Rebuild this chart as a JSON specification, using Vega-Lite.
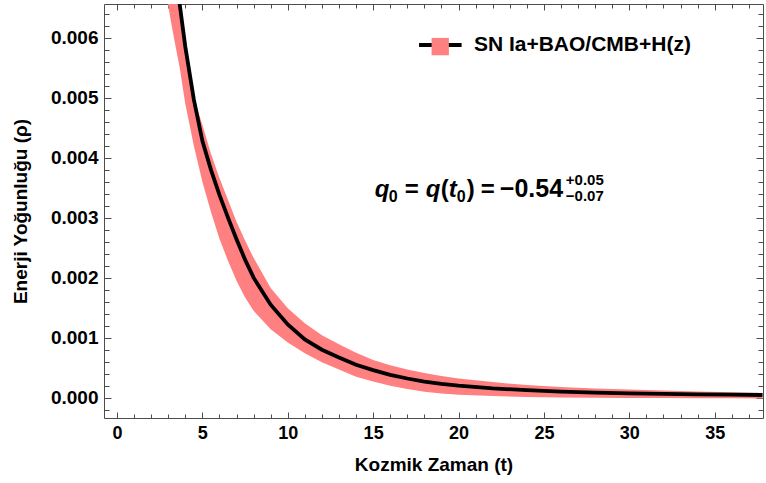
{
  "$schema": "https://vega.github.io/schema/vega-lite/v6.json",
  "width": 659,
  "height": 414,
  "autosize": {"type": "none"},
  "padding": {"left": 104, "top": 4, "right": 3, "bottom": 65},
  "background": "white",
  "config": {
    "view": {"stroke": "#4d4d4d", "strokeWidth": 1},
    "font": "Liberation Sans",
    "axis": {
      "domain": false,
      "grid": false,
      "tickColor": "#4d4d4d",
      "tickWidth": 1,
      "labelFont": "Liberation Sans",
      "labelFontWeight": "bold",
      "labelColor": "black",
      "titleFont": "Liberation Sans",
      "titleFontWeight": "bold",
      "titleColor": "black",
      "titleFontSize": 19
    }
  },
  "data": {
    "values": [
      {"t": 2.9, "rho": 0.0093, "lo": 0.0067, "hi": 0.0091},
      {"t": 3.2, "rho": 0.008, "lo": 0.0062, "hi": 0.0079},
      {"t": 3.4, "rho": 0.0073, "lo": 0.0059, "hi": 0.0073},
      {"t": 3.67, "rho": 0.00656, "lo": 0.0055, "hi": 0.00656},
      {"t": 4, "rho": 0.00585, "lo": 0.0049, "hi": 0.006},
      {"t": 4.5, "rho": 0.00497, "lo": 0.0042, "hi": 0.005},
      {"t": 5, "rho": 0.00428, "lo": 0.0036, "hi": 0.00455},
      {"t": 5.5, "rho": 0.0038, "lo": 0.0031, "hi": 0.00407},
      {"t": 6, "rho": 0.00338, "lo": 0.00265, "hi": 0.00366},
      {"t": 6.5, "rho": 0.003, "lo": 0.00228, "hi": 0.0033},
      {"t": 7, "rho": 0.00264, "lo": 0.00195, "hi": 0.00293},
      {"t": 7.5, "rho": 0.0023, "lo": 0.00167, "hi": 0.00262},
      {"t": 8, "rho": 0.002, "lo": 0.00145, "hi": 0.00233},
      {"t": 9, "rho": 0.00155, "lo": 0.00114, "hi": 0.00183},
      {"t": 10, "rho": 0.00122, "lo": 0.00092, "hi": 0.00149},
      {"t": 11, "rho": 0.00097, "lo": 0.00074, "hi": 0.00124},
      {"t": 12, "rho": 0.0008, "lo": 0.00059, "hi": 0.00104},
      {"t": 13, "rho": 0.00067, "lo": 0.00047, "hi": 0.00089},
      {"t": 14, "rho": 0.00055, "lo": 0.00035, "hi": 0.00075},
      {"t": 15, "rho": 0.00046, "lo": 0.00027, "hi": 0.00063},
      {"t": 16, "rho": 0.00038, "lo": 0.0002, "hi": 0.00054},
      {"t": 17, "rho": 0.00032, "lo": 0.000145, "hi": 0.00047},
      {"t": 18, "rho": 0.00027, "lo": 0.0001, "hi": 0.00041},
      {"t": 19, "rho": 0.00023, "lo": 0.00007, "hi": 0.00036},
      {"t": 20, "rho": 0.0002, "lo": 0.00005, "hi": 0.00032},
      {"t": 22, "rho": 0.000155, "lo": 0.000027, "hi": 0.00026},
      {"t": 24, "rho": 0.000125, "lo": 0.000012, "hi": 0.00021},
      {"t": 26, "rho": 0.000102, "lo": 0.000004, "hi": 0.00018},
      {"t": 28, "rho": 0.000085, "lo": 0, "hi": 0.000155},
      {"t": 30, "rho": 0.000072, "lo": -0.000004, "hi": 0.000135},
      {"t": 32, "rho": 0.000063, "lo": -0.000006, "hi": 0.00012},
      {"t": 34, "rho": 0.000056, "lo": -0.000008, "hi": 0.000105},
      {"t": 36, "rho": 0.00005, "lo": -0.00001, "hi": 0.00009},
      {"t": 37.8, "rho": 0.000045, "lo": -0.000012, "hi": 0.00008}
    ]
  },
  "layer": [
    {
      "mark": {"type": "area", "color": "#ff8080", "clip": true},
      "encoding": {
        "x": {
          "field": "t", "type": "quantitative",
          "scale": {"domain": [-0.76, 37.83], "nice": false, "zero": false},
          "axis": {
            "orient": "bottom",
            "title": "Kozmik Zaman (t)",
            "values": [0,1,2,3,4,5,6,7,8,9,10,11,12,13,14,15,16,17,18,19,20,21,22,23,24,25,26,27,28,29,30,31,32,33,34,35,36,37],
            "labelExpr": "datum.value % 5 === 0 ? datum.label : ''",
            "tickSize": {"condition": {"test": "datum.value % 5 === 0", "value": -6}, "value": -4},
            "labelPadding": 12,
            "labelFontSize": 18,
            "titlePadding": 13
          }
        },
        "y": {
          "field": "lo", "type": "quantitative",
          "scale": {"domain": [-0.000338, 0.00656], "nice": false, "zero": false},
          "axis": {
            "orient": "left",
            "title": "Enerji Yoğunluğu (ρ)",
            "format": ".3f",
            "values": [-0.0002,0,0.0002,0.0004,0.0006,0.0008,0.001,0.0012,0.0014,0.0016,0.0018,0.002,0.0022,0.0024,0.0026,0.0028,0.003,0.0032,0.0034,0.0036,0.0038,0.004,0.0042,0.0044,0.0046,0.0048,0.005,0.0052,0.0054,0.0056,0.0058,0.006,0.0062,0.0064],
            "labelExpr": "abs(round(datum.value*10000)) % 10 === 0 ? datum.label : ''",
            "tickSize": {"condition": {"test": "abs(round(datum.value*10000)) % 10 === 0", "value": -7}, "value": -5},
            "labelPadding": 13,
            "labelFontSize": 19,
            "titlePadding": 20
          }
        },
        "y2": {"field": "hi"}
      }
    },
    {
      "mark": {"type": "line", "color": "black", "strokeWidth": 3.8, "clip": true},
      "encoding": {
        "x": {
          "field": "t", "type": "quantitative",
          "axis": {
            "orient": "top", "title": null, "labels": false,
            "values": [0,1,2,3,4,5,6,7,8,9,10,11,12,13,14,15,16,17,18,19,20,21,22,23,24,25,26,27,28,29,30,31,32,33,34,35,36,37],
            "tickSize": {"condition": {"test": "datum.value % 5 === 0", "value": -6}, "value": -4}
          }
        },
        "y": {
          "field": "rho", "type": "quantitative",
          "axis": {
            "orient": "right", "title": null, "labels": false,
            "values": [-0.0002,0,0.0002,0.0004,0.0006,0.0008,0.001,0.0012,0.0014,0.0016,0.0018,0.002,0.0022,0.0024,0.0026,0.0028,0.003,0.0032,0.0034,0.0036,0.0038,0.004,0.0042,0.0044,0.0046,0.0048,0.005,0.0052,0.0054,0.0056,0.0058,0.006,0.0062,0.0064],
            "tickSize": {"condition": {"test": "abs(round(datum.value*10000)) % 10 === 0", "value": -7}, "value": -5}
          }
        }
      }
    },
    {
      "data": {"values": [{"series": "SN Ia+BAO/CMB+H(z)"}]},
      "mark": {"type": "rule", "color": "black", "strokeWidth": 4},
      "encoding": {
        "x": {"datum": 17.69, "type": "quantitative", "axis": null},
        "x2": {"datum": 20.18},
        "y": {"datum": 0.005878, "type": "quantitative", "axis": null}
      }
    },
    {
      "data": {"values": [{"series": "SN Ia+BAO/CMB+H(z)"}]},
      "mark": {"type": "point", "shape": "square", "filled": true, "color": "#ff8080", "opacity": 1, "size": 300},
      "encoding": {
        "x": {"datum": 18.93, "type": "quantitative", "axis": null},
        "y": {"datum": 0.00585, "type": "quantitative", "axis": null}
      }
    },
    {
      "data": {"values": [{"series": "SN Ia+BAO/CMB+H(z)"}]},
      "mark": {"type": "text", "align": "left", "baseline": "middle", "fontSize": 21, "fontWeight": "bold", "color": "black", "font": "Liberation Sans"},
      "encoding": {
        "x": {"datum": 20.9, "type": "quantitative", "axis": null},
        "y": {"datum": 0.005878, "type": "quantitative", "axis": null},
        "text": {"field": "series"}
      }
    },
    {
      "data": {"values": [{"s": "q"}]},
      "mark": {"type": "text", "align": "left", "baseline": "alphabetic", "fontSize": 24, "fontWeight": "bold", "fontStyle": "italic", "color": "black", "dx": 0},
      "encoding": {"x": {"datum": 15.1, "type": "quantitative", "axis": null}, "y": {"datum": 0.00335, "type": "quantitative", "axis": null}, "text": {"field": "s"}}
    },
    {
      "data": {"values": [{"s": "0"}]},
      "mark": {"type": "text", "align": "left", "baseline": "alphabetic", "fontSize": 16, "fontWeight": "bold", "color": "black", "dx": 14, "dy": 5},
      "encoding": {"x": {"datum": 15.1, "type": "quantitative", "axis": null}, "y": {"datum": 0.00335, "type": "quantitative", "axis": null}, "text": {"field": "s"}}
    },
    {
      "data": {"values": [{"s": "="}]},
      "mark": {"type": "text", "align": "left", "baseline": "alphabetic", "fontSize": 24, "fontWeight": "bold", "color": "black", "dx": 30},
      "encoding": {"x": {"datum": 15.1, "type": "quantitative", "axis": null}, "y": {"datum": 0.00335, "type": "quantitative", "axis": null}, "text": {"field": "s"}}
    },
    {
      "data": {"values": [{"s": "q"}]},
      "mark": {"type": "text", "align": "left", "baseline": "alphabetic", "fontSize": 24, "fontWeight": "bold", "fontStyle": "italic", "color": "black", "dx": 51},
      "encoding": {"x": {"datum": 15.1, "type": "quantitative", "axis": null}, "y": {"datum": 0.00335, "type": "quantitative", "axis": null}, "text": {"field": "s"}}
    },
    {
      "data": {"values": [{"s": "("}]},
      "mark": {"type": "text", "align": "left", "baseline": "alphabetic", "fontSize": 24, "fontWeight": "bold", "color": "black", "dx": 66},
      "encoding": {"x": {"datum": 15.1, "type": "quantitative", "axis": null}, "y": {"datum": 0.00335, "type": "quantitative", "axis": null}, "text": {"field": "s"}}
    },
    {
      "data": {"values": [{"s": "t"}]},
      "mark": {"type": "text", "align": "left", "baseline": "alphabetic", "fontSize": 24, "fontWeight": "bold", "fontStyle": "italic", "color": "black", "dx": 74},
      "encoding": {"x": {"datum": 15.1, "type": "quantitative", "axis": null}, "y": {"datum": 0.00335, "type": "quantitative", "axis": null}, "text": {"field": "s"}}
    },
    {
      "data": {"values": [{"s": "0"}]},
      "mark": {"type": "text", "align": "left", "baseline": "alphabetic", "fontSize": 16, "fontWeight": "bold", "color": "black", "dx": 82, "dy": 5},
      "encoding": {"x": {"datum": 15.1, "type": "quantitative", "axis": null}, "y": {"datum": 0.00335, "type": "quantitative", "axis": null}, "text": {"field": "s"}}
    },
    {
      "data": {"values": [{"s": ")"}]},
      "mark": {"type": "text", "align": "left", "baseline": "alphabetic", "fontSize": 24, "fontWeight": "bold", "color": "black", "dx": 92},
      "encoding": {"x": {"datum": 15.1, "type": "quantitative", "axis": null}, "y": {"datum": 0.00335, "type": "quantitative", "axis": null}, "text": {"field": "s"}}
    },
    {
      "data": {"values": [{"s": "="}]},
      "mark": {"type": "text", "align": "left", "baseline": "alphabetic", "fontSize": 24, "fontWeight": "bold", "color": "black", "dx": 106},
      "encoding": {"x": {"datum": 15.1, "type": "quantitative", "axis": null}, "y": {"datum": 0.00335, "type": "quantitative", "axis": null}, "text": {"field": "s"}}
    },
    {
      "data": {"values": [{"s": "−0.54"}]},
      "mark": {"type": "text", "align": "left", "baseline": "alphabetic", "fontSize": 25, "fontWeight": "bold", "color": "black", "dx": 125},
      "encoding": {"x": {"datum": 15.1, "type": "quantitative", "axis": null}, "y": {"datum": 0.00335, "type": "quantitative", "axis": null}, "text": {"field": "s"}}
    },
    {
      "data": {"values": [{"s": "+0.05"}]},
      "mark": {"type": "text", "align": "left", "baseline": "alphabetic", "fontSize": 15, "fontWeight": "bold", "color": "black", "dx": 191, "dy": -12},
      "encoding": {"x": {"datum": 15.1, "type": "quantitative", "axis": null}, "y": {"datum": 0.00335, "type": "quantitative", "axis": null}, "text": {"field": "s"}}
    },
    {
      "data": {"values": [{"s": "−0.07"}]},
      "mark": {"type": "text", "align": "left", "baseline": "alphabetic", "fontSize": 15, "fontWeight": "bold", "color": "black", "dx": 191, "dy": 4},
      "encoding": {"x": {"datum": 15.1, "type": "quantitative", "axis": null}, "y": {"datum": 0.00335, "type": "quantitative", "axis": null}, "text": {"field": "s"}}
    }
  ]
}
